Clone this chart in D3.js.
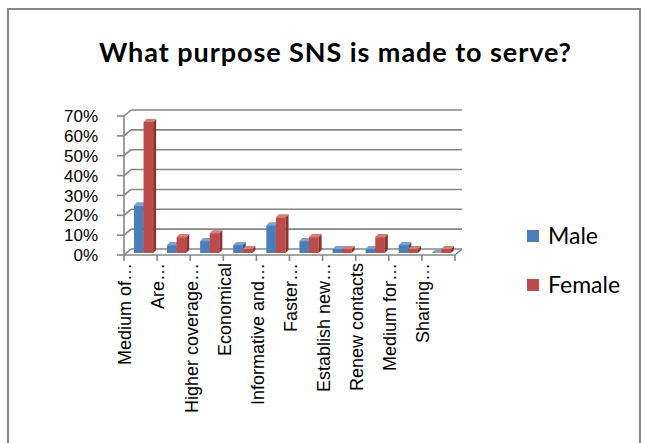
<!DOCTYPE html>
<html>
<head>
<meta charset="utf-8">
<script src="https://cdn.jsdelivr.net/npm/d3@7"></script>
<style>
  html, body { margin: 0; padding: 0; background: #fff; }
  svg { display: block; }
</style>
</head>
<body>
<svg id="chart" width="645" height="443"></svg>
<script>
// Survey results: share of respondents by purpose, per gender
const categories = [
  "Medium of…", "Are…", "Higher coverage…", "Economical", "Informative and…",
  "Faster…", "Establish new…", "Renew contacts", "Medium for…", "Sharing…"
];
const seriesNames = ["Male", "Female"];
const male   = [0.24, 0.04, 0.06, 0.04, 0.14, 0.06, 0.02, 0.02, 0.04, 0.00];
const female = [0.66, 0.08, 0.10, 0.02, 0.18, 0.08, 0.02, 0.08, 0.02, 0.02];
const yTicks = [0, 0.1, 0.2, 0.3, 0.4, 0.5, 0.6, 0.7];
const chartTitle = "What purpose SNS is made to serve?";

const faceColors = {
  Male:   { front: "#4A7EBB", side: "#2F5584", top: "#7EA2D0" },
  Female: { front: "#BE4B48", side: "#8A3432", top: "#D57D7A" }
};

const svg = d3.select("#chart");

// outer chart frame
svg.append("rect")
  .attr("x", 8).attr("y", 9).attr("width", 632).attr("height", 460)
  .attr("fill", "#fff").attr("stroke", "#878787").attr("stroke-width", 2);

// title
svg.append("text")
  .attr("x", 335).attr("y", 62)
  .attr("text-anchor", "middle")
  .attr("font-family", "Lato, 'Open Sans', sans-serif")
  .attr("font-weight", "bold")
  .attr("font-size", 27)
  .attr("textLength", 472)
  .attr("lengthAdjust", "spacing")
  .attr("fill", "#000")
  .text(chartTitle);

// plot geometry: front axis plane, with depth offset to the back wall
const plotLeft = 124, plotRight = 455, plotBase = 255, plotTop = 116;
const depth = { dx: 7, dy: -6 };     // front -> back wall
const barPlane = { dx: 2, dy: -2 };  // front -> bar front faces
const barDepth = 3;

const x0 = d3.scaleBand().domain(categories).range([plotLeft, plotRight]).padding(0);
const bw = x0.bandwidth();
const x1 = d3.scaleBand().domain(seriesNames).range([0, bw * 0.58]).padding(0);
const y = d3.scaleLinear().domain([0, 0.7]).range([plotBase, plotTop]);

const grid = svg.append("g")
  .attr("stroke", "#868686").attr("stroke-width", 1.6).attr("fill", "none");

// back-wall gridlines, side-wall diagonals and value ticks
yTicks.forEach(t => {
  const yy = y(t);
  grid.append("line")
    .attr("x1", plotLeft + depth.dx).attr("y1", yy + depth.dy)
    .attr("x2", plotRight + depth.dx).attr("y2", yy + depth.dy);
  grid.append("line")
    .attr("x1", plotLeft).attr("y1", yy)
    .attr("x2", plotLeft + depth.dx).attr("y2", yy + depth.dy);
  grid.append("line")
    .attr("x1", plotLeft - 7).attr("y1", yy)
    .attr("x2", plotLeft).attr("y2", yy);
});

// front value axis line
grid.append("line")
  .attr("x1", plotLeft).attr("y1", y(0))
  .attr("x2", plotLeft).attr("y2", y(0.7));

// floor front edge and right diagonal
grid.append("line")
  .attr("x1", plotLeft).attr("y1", y(0))
  .attr("x2", plotRight).attr("y2", y(0));
grid.append("line")
  .attr("x1", plotRight).attr("y1", y(0))
  .attr("x2", plotRight + depth.dx).attr("y2", y(0) + depth.dy);

// category tick marks
const catEdges = categories.map(c => x0(c)).concat([plotRight]);
catEdges.forEach(xx => {
  grid.append("line")
    .attr("x1", xx).attr("y1", y(0))
    .attr("x2", xx).attr("y2", y(0) + 6);
});

// value labels
const yl = svg.append("g")
  .attr("font-family", "'Liberation Sans', Arial, sans-serif")
  .attr("font-size", 17).attr("fill", "#000");
yTicks.forEach(t => {
  yl.append("text")
    .attr("x", 98).attr("y", y(t))
    .attr("text-anchor", "end")
    .attr("dy", "0.36em")
    .text(d3.format(".0%")(t));
});

// 3D columns
const yb = v => y(v) + barPlane.dy;
const bars = svg.append("g");
categories.forEach((c, i) => {
  const vals = { Male: male[i], Female: female[i] };
  seriesNames.forEach(s => {
    const col = faceColors[s];
    const xL = x0(c) + bw * 0.24 + x1(s) + barPlane.dx;
    const w = x1.bandwidth();
    const y0 = yb(0), yT = yb(vals[s]);
    const d = barDepth;
    const g = bars.append("g");
    if (y0 - yT > 0) {
      g.append("rect")
        .attr("x", xL).attr("y", yT).attr("width", w).attr("height", y0 - yT)
        .attr("fill", col.front);
    }
    g.append("polygon")
      .attr("points", [[xL + w, yT], [xL + w + d, yT - d], [xL + w + d, y0 - d], [xL + w, y0]].join(" "))
      .attr("fill", col.side);
    g.append("polygon")
      .attr("points", [[xL, yT], [xL + d, yT - d], [xL + w + d, yT - d], [xL + w, yT]].join(" "))
      .attr("fill", col.top);
  });
});

// category labels, rotated
const xl = svg.append("g")
  .attr("font-family", "'Liberation Sans', Arial, sans-serif")
  .attr("font-size", 18).attr("fill", "#000");
categories.forEach(c => {
  xl.append("text")
    .attr("transform", `translate(${x0(c) + 1},263) rotate(-90)`)
    .attr("text-anchor", "end")
    .attr("dy", "0.35em")
    .text(c);
});

// legend
const legend = svg.append("g")
  .attr("font-family", "Lato, 'Open Sans', sans-serif")
  .attr("font-size", 23).attr("fill", "#000");
const legendY = { Male: 236, Female: 285 };
seriesNames.forEach(s => {
  legend.append("rect")
    .attr("x", 527).attr("y", legendY[s] - 6).attr("width", 12).attr("height", 12)
    .attr("fill", faceColors[s].front);
  legend.append("text")
    .attr("x", 548).attr("y", legendY[s])
    .attr("dy", "0.35em")
    .text(s);
});
</script>
</body>
</html>
